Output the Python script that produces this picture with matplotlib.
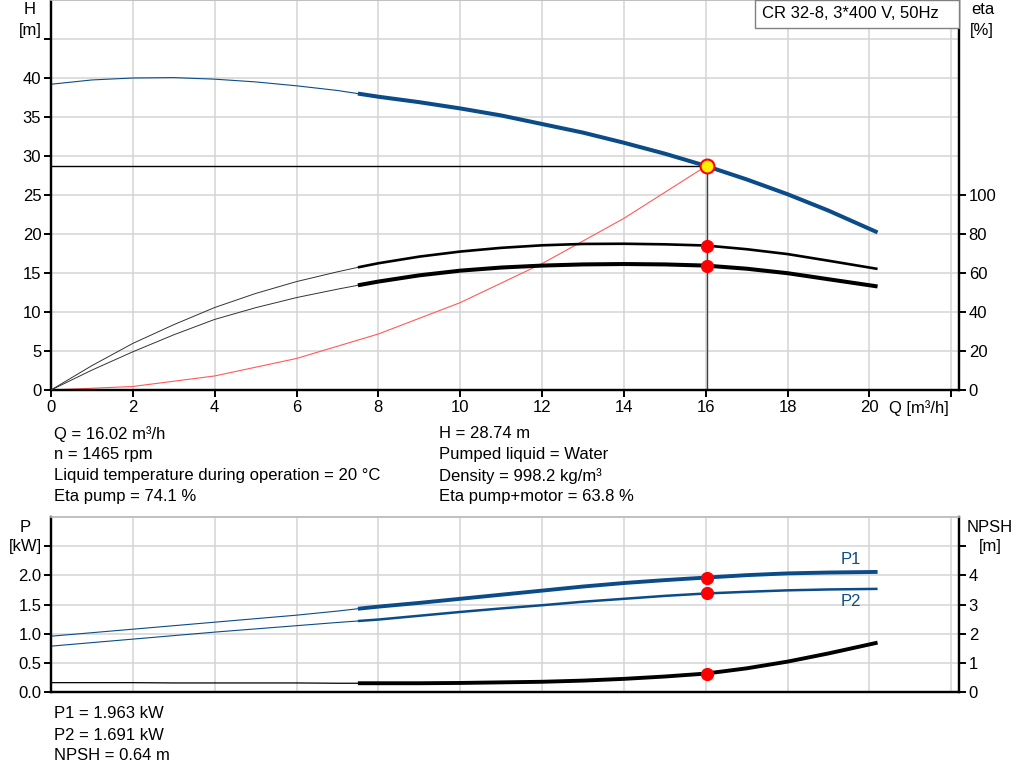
import matplotlib
matplotlib.use("Agg")
import matplotlib.pyplot as plt
from matplotlib.patches import Rectangle

plt.rcParams['font.family'] = ['Liberation Sans', 'DejaVu Sans']
FS = 12
plt.rcParams['font.size'] = FS

BLUE = '#0b4c88'
GRID = '#d4d4d4'

# ---- data ----
q_h = [0, 1, 2, 3, 4, 5, 6, 7, 7.5, 8, 9, 10, 11, 12, 13, 14, 15, 16, 17, 18, 19, 20.2]
h_vals = [39.2, 39.75, 40.0, 40.05, 39.85, 39.5, 39.0, 38.4, 38.0, 37.6, 36.9, 36.1, 35.2, 34.1,
          33.0, 31.7, 30.3, 28.74, 27.0, 25.1, 23.0, 20.2]
eta_pump = [0, 12.5, 23.9, 33.5, 42.3, 49.5, 55.6, 60.6, 62.9, 65.0, 68.4, 71.0, 72.9, 74.2,
            74.9, 75.0, 74.7, 74.1, 72.2, 69.7, 66.3, 62.1]
eta_total = [0, 10.2, 19.6, 28.3, 36.2, 42.2, 47.4, 51.7, 53.7, 55.6, 58.8, 61.2, 62.8, 63.8,
             64.4, 64.6, 64.4, 63.8, 62.2, 59.9, 56.8, 53.1]
p1_vals = [0.96, 1.02, 1.08, 1.14, 1.20, 1.26, 1.32, 1.39, 1.43, 1.466, 1.53, 1.60, 1.67, 1.74,
           1.81, 1.87, 1.92, 1.963, 2.005, 2.035, 2.05, 2.06]
p2_vals = [0.79, 0.85, 0.91, 0.97, 1.03, 1.085, 1.14, 1.195, 1.22, 1.245, 1.31, 1.375, 1.435, 1.49,
           1.55, 1.60, 1.65, 1.691, 1.72, 1.745, 1.76, 1.77]
npsh_vals = [0.33, 0.33, 0.33, 0.32, 0.32, 0.32, 0.32, 0.31, 0.31, 0.31, 0.31, 0.32, 0.34, 0.36,
             0.40, 0.46, 0.54, 0.64, 0.82, 1.05, 1.33, 1.70]
q_sys = [0, 2, 4, 6, 8, 10, 12, 14, 16.02]
h_sys = [0, 0.45, 1.8, 4.04, 7.18, 11.2, 16.2, 22.0, 28.74]

q_op = 16.02
h_op = 28.74
eta_pump_op = 74.1
eta_total_op = 63.8
p1_op = 1.963
p2_op = 1.691
npsh_op = 0.64
q_split = 7.5  # start of the thick (recommended) range

info_left = ["Q = 16.02 m³/h", "n = 1465 rpm",
             "Liquid temperature during operation = 20 °C", "Eta pump = 74.1 %"]
info_right = ["H = 28.74 m", "Pumped liquid = Water",
              "Density = 998.2 kg/m³", "Eta pump+motor = 63.8 %"]
info_bottom = ["P1 = 1.963 kW", "P2 = 1.691 kW", "NPSH = 0.64 m"]
title_box = "CR 32-8, 3*400 V, 50Hz"

x_ticks = [0, 2, 4, 6, 8, 10, 12, 14, 16, 18, 20, 22]
x_labels = ["0", "2", "4", "6", "8", "10", "12", "14", "16", "18", "20", ""]
h_ticks = [0, 5, 10, 15, 20, 25, 30, 35, 40, 45]
h_labels = ["0", "5", "10", "15", "20", "25", "30", "35", "40", ""]
eta_ticks = [0, 20, 40, 60, 80, 100]
p_ticks = [0, 0.5, 1.0, 1.5, 2.0, 2.5]
p_labels = ["0.0", "0.5", "1.0", "1.5", "2.0", ""]
npsh_ticks = [0, 1, 2, 3, 4, 5]
npsh_labels = ["0", "1", "2", "3", "4", ""]

XMAX = 22.19
W, H = 1024, 781
fig = plt.figure(figsize=(W / 100, H / 100), dpi=100)


def split(xs, ys, xs0):
    i = xs.index(xs0)
    return (xs[:i + 1], ys[:i + 1]), (xs[i:], ys[i:])


def style(ax):
    for s in ['left', 'bottom', 'right']:
        ax.spines[s].set_color('black')
        ax.spines[s].set_linewidth(1.6)
    ax.spines['top'].set_color('#c0c0c0')
    ax.spines['top'].set_linewidth(1.2)
    ax.tick_params(direction='out', length=5, width=1.4, colors='black', labelsize=FS, pad=2)


# ---------------- top chart ----------------
ax = fig.add_axes([51 / W, 1 - 390 / H, 908 / W, 390 / H])
ax2 = ax.twinx()
ax.set_xlim(0, XMAX)
ax.set_ylim(0, 50)
ax2.set_ylim(0, 200)
style(ax)
style(ax2)
ax.set_xticks(x_ticks)
ax.set_xticklabels(x_labels)
ax.set_yticks(h_ticks)
ax.set_yticklabels(h_labels)
ax2.set_yticks(eta_ticks)
ax.grid(True, color=GRID, lw=1.1)
ax.set_axisbelow(True)

(a, b), (c, d) = split(q_h, h_vals, q_split)
ax.plot(a, b, color=BLUE, lw=0.8, zorder=3)
ax.plot(c, d, color=BLUE, lw=2.9, zorder=3, solid_capstyle='butt')

ax.plot(q_sys, h_sys, color='#ff5a5a', lw=0.8, zorder=2)
ax.plot([0, q_op], [h_op, h_op], color='black', lw=1.0, zorder=2)
ax.plot([q_op, q_op], [0, h_op], color='#404040', lw=1.0, zorder=2)

(a, b), (c, d) = split(q_h, eta_pump, q_split)
ax2.plot(a, b, color='#333333', lw=0.7, zorder=3)
ax2.plot(c, d, color='black', lw=1.9, zorder=3, solid_capstyle='butt')
(a, b), (c, d) = split(q_h, eta_total, q_split)
ax2.plot(a, b, color='#333333', lw=0.7, zorder=3)
ax2.plot(c, d, color='black', lw=2.9, zorder=3, solid_capstyle='butt')
ax2.plot([q_op, q_op], [eta_pump_op, eta_total_op], 'o', color='red', ms=8.5, zorder=5)
ax2.plot([q_op], [h_op * 4], 'o', mfc='#ffee00', mec='red', mew=1.5, ms=10, zorder=6)

fig.text(30 / W, 1 - 9 / H, "H", ha='center', va='center')
fig.text(30 / W, 1 - 30 / H, "[m]", ha='center', va='center')
fig.text(983 / W, 1 - 10 / H, "eta", ha='center', va='center')
fig.text(982 / W, 1 - 30 / H, "[%]", ha='center', va='center')
fig.text(919 / W, 1 - 408 / H, "Q [m³/h]", ha='center', va='center')

fig.patches.append(Rectangle((755 / W, 1 - 28 / H), (959 - 755) / W, 28 / H,
                             transform=fig.transFigure, fc='white', ec='#808080', lw=1.0,
                             zorder=10))
fig.text(762 / W, 1 - 13.5 / H, title_box, ha='left', va='center', zorder=11)

for i, t in enumerate(info_left):
    fig.text(54 / W, 1 - (434 + 21 * i) / H, t, ha='left', va='center')
for i, t in enumerate(info_right):
    fig.text(439 / W, 1 - (434 + 21 * i) / H, t, ha='left', va='center')

# ---------------- bottom chart ----------------
bx = fig.add_axes([51 / W, 1 - 692.3 / H, 908 / W, 175.3 / H])
bx2 = bx.twinx()
bx.set_xlim(0, XMAX)
bx.set_ylim(0, 3)
bx2.set_ylim(0, 6)
style(bx)
style(bx2)
bx.set_xticks(x_ticks)
bx.set_xticklabels([])
bx.tick_params(axis='x', length=0)
bx.set_yticks(p_ticks)
bx.set_yticklabels(p_labels)
bx2.set_yticks(npsh_ticks)
bx2.set_yticklabels(npsh_labels)
bx.grid(True, color=GRID, lw=1.1)
bx.set_axisbelow(True)

(a, b), (c, d) = split(q_h, p1_vals, q_split)
bx.plot(a, b, color=BLUE, lw=0.8, zorder=3)
bx.plot(c, d, color=BLUE, lw=2.8, zorder=3, solid_capstyle='butt')
(a, b), (c, d) = split(q_h, p2_vals, q_split)
bx.plot(a, b, color=BLUE, lw=0.8, zorder=3)
bx.plot(c, d, color=BLUE, lw=1.8, zorder=3, solid_capstyle='butt')
(a, b), (c, d) = split(q_h, npsh_vals, q_split)
bx2.plot(a, b, color='black', lw=0.9, zorder=3)
bx2.plot(c, d, color='black', lw=2.8, zorder=3, solid_capstyle='butt')
bx.plot([q_op, q_op], [p1_op, p2_op], 'o', color='red', ms=8.5, zorder=5)
bx2.plot([q_op], [npsh_op], 'o', color='red', ms=8.5, zorder=5)

fig.text(851 / W, 1 - 560 / H, "P1", color=BLUE, ha='center', va='center')
fig.text(851 / W, 1 - 601 / H, "P2", color=BLUE, ha='center', va='center')
fig.text(25 / W, 1 - 527 / H, "P", ha='center', va='center')
fig.text(25 / W, 1 - 546 / H, "[kW]", ha='center', va='center')
fig.text(990 / W, 1 - 527 / H, "NPSH", ha='center', va='center')
fig.text(990 / W, 1 - 546 / H, "[m]", ha='center', va='center')

for i, t in enumerate(info_bottom):
    fig.text(54 / W, 1 - (714 + 21 * i) / H, t, ha='left', va='center')

fig.savefig("out.png", dpi=100, facecolor='white')
